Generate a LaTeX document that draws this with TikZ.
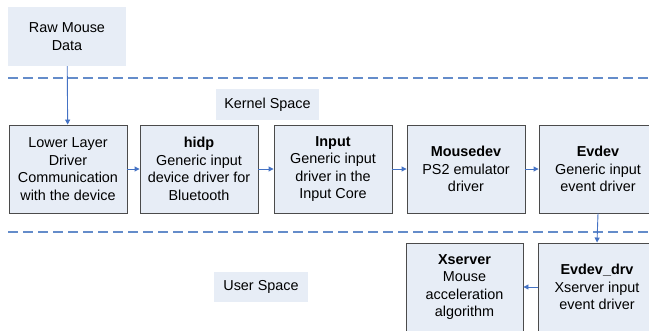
\documentclass[tikz,border=0pt]{standalone}
\usepackage{fontspec}
\setmainfont{Liberation Sans}
\usetikzlibrary{arrows.meta}
\definecolor{boxfill}{RGB}{231,237,246}
\definecolor{boxline}{RGB}{75,75,75}
\definecolor{dashblue}{RGB}{100,140,202}
\definecolor{arrblue}{RGB}{68,114,196}
\begin{document}
\begin{tikzpicture}[x=1pt,y=-1pt,
  every node/.style={font=\fontsize{14.4}{17.5}\selectfont, align=center, inner sep=0pt},
  blk/.style={draw=boxline, line width=0.9pt, fill=boxfill, minimum width=118pt, minimum height=88pt},
  lbl/.style={fill=boxfill, minimum height=31pt},
  sep/.style={draw=dashblue, line width=1.8pt, dash pattern=on 10pt off 5pt},
  conn/.style={draw=arrblue, line width=0.9pt, -{Triangle[length=5pt,width=5pt]}}]
\useasboundingbox (0,0) rectangle (649,330);
\begin{scope}
\clip (0,0) rectangle (649,330);
\node[fill=boxfill, minimum width=118pt, minimum height=59pt] (raw) at (67,36.5) {Raw Mouse\\Data};
\coordinate (d1a) at (8,78);
\coordinate (d1b) at (649,78);
\coordinate (d2a) at (8,232);
\coordinate (d2b) at (649,232);
\draw[sep] (d1a) -- (d1b);
\draw[sep] (d2a) -- (d2b);
\node[lbl, minimum width=103pt] (kernel) at (267.5,104.5) {Kernel Space};
\node[lbl, minimum width=94pt, minimum height=30pt] (user) at (261,287) {User Space};
\node[blk] (lower) at (68,169) {Lower Layer\\Driver\\Communication\\with the device};
\node[blk] (hidp) at (199,169) {\textbf{hidp}\\Generic input\\device driver for\\Bluetooth};
\node[blk] (input) at (333,169) {\textbf{Input}\\Generic input\\driver in the\\Input Core};
\node[blk] (mousedev) at (466,169) {\textbf{Mousedev}\\PS2 emulator\\driver};
\node[blk] (evdev) at (598,169) {\textbf{Evdev}\\Generic input\\event driver};
\node[blk, minimum width=117pt] (xserver) at (464.5,287) {\textbf{Xserver}\\Mouse\\acceleration\\algorithm};
\node[blk] (evdevdrv) at (597,287) {\textbf{Evdev\_drv}\\Xserver input\\event driver};
\draw[conn] (raw) -- (lower);
\draw[conn] (lower) -- (hidp);
\draw[conn] (hidp) -- (input);
\draw[conn] (input) -- (mousedev);
\draw[conn] (mousedev) -- (evdev);
\draw[conn] (evdev.south) -- (evdevdrv.north);
\draw[conn] (evdevdrv) -- (xserver);
\end{scope}
\end{tikzpicture}
\end{document}
